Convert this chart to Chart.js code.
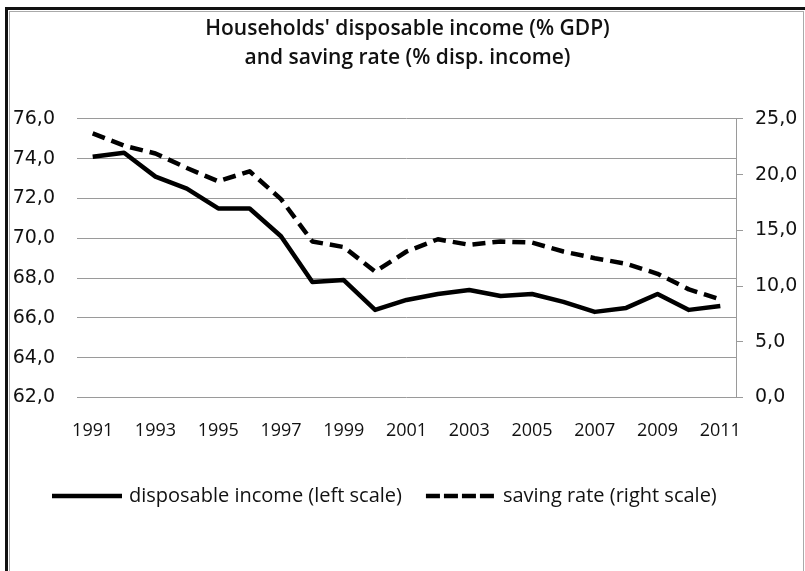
<!DOCTYPE html>
<html>
<head>
<meta charset="utf-8">
<script src="https://cdn.jsdelivr.net/npm/chart.js@4.4.1/dist/chart.umd.min.js"></script>
<style>
  html, body { margin: 0; padding: 0; background: #fff; overflow: hidden; }
  #wrap { position: relative; width: 805px; height: 571px; }
  #frame { position: absolute; left: 5px; top: 7px; width: 820px; height: 590px;
           border-top: 3px solid #111; border-left: 3px solid #111; }
  #inner { position: absolute; left: 9px; top: 11px; width: 793px; height: 590px;
           border: 1px solid #aaa; }
  canvas { position: absolute; left: 0; top: 0; }
</style>
</head>
<body>
<div id="wrap">
  <div id="frame"></div>
  <div id="inner"></div>
  <canvas id="chart" width="805" height="571"></canvas>
</div>
<script>
// years on the category axis
const years = ['1991', '1992', '1993', '1994', '1995', '1996', '1997', '1998', '1999', '2000',
               '2001', '2002', '2003', '2004', '2005', '2006', '2007', '2008', '2009', '2010', '2011'];

// households' disposable income, % of GDP (left scale)
const disposableIncome = [74.1, 74.3, 73.1, 72.5, 71.5, 71.5, 70.1, 67.8, 67.9, 66.4,
                          66.9, 67.2, 67.4, 67.1, 67.2, 66.8, 66.3, 66.5, 67.2, 66.4, 66.6];

// saving rate, % of disposable income (right scale)
const savingRate = [23.7, 22.6, 21.9, 20.6, 19.4, 20.3, 17.8, 14.0, 13.5, 11.3,
                    13.1, 14.2, 13.7, 14.0, 13.9, 13.1, 12.5, 12.0, 11.1, 9.7, 8.8];

const titleLines = ["Households' disposable income (% GDP)", 'and saving rate (% disp. income)'];
const seriesNames = ['disposable income (left scale)', 'saving rate (right scale)'];

const fontFamily = "'Open Sans', 'Noto Sans', sans-serif";
const axisFont = "'DejaVu Sans', sans-serif";
const gridGray = '#9a9a9a';

function commaLabel(v) {
    return Number(v).toFixed(1).replace('.', ',');
}

// legend drawn by hand so the dashed sample keeps its dashes
const bottomLegend = {
    id: 'bottomLegend',
    afterDraw(chart) {
        const c = chart.ctx;
        const y = 496;
        let x = 52;
        c.save();
        c.font = '20px ' + fontFamily;
        c.textBaseline = 'middle';
        c.fillStyle = '#111';
        chart.data.datasets.forEach(function (ds) {
            c.beginPath();
            c.lineWidth = 4.5;
            c.strokeStyle = ds.borderColor;
            c.setLineDash(ds.legendDash || []);
            c.moveTo(x, y);
            c.lineTo(x + 70, y);
            c.stroke();
            c.setLineDash([]);
            c.fillText(ds.label, x + 77, y);
            x += 77 + c.measureText(ds.label).width + 24;
        });
        c.restore();
    }
};

const ctx = document.getElementById('chart').getContext('2d');
const chart = new Chart(ctx, {
    type: 'line',
    data: {
        labels: years,
        datasets: [{
            label: seriesNames[0],
            data: disposableIncome,
            yAxisID: 'yLeft',
            borderColor: '#000',
            backgroundColor: '#000',
            borderWidth: 4.5,
            pointRadius: 0,
            tension: 0,
            borderJoinStyle: 'round'
        }, {
            label: seriesNames[1],
            data: savingRate,
            yAxisID: 'yRight',
            borderColor: '#000',
            backgroundColor: '#000',
            borderWidth: 4.5,
            borderDash: [13, 7],
            legendDash: [14, 4],
            pointRadius: 0,
            tension: 0,
            borderJoinStyle: 'round'
        }]
    },
    options: {
        responsive: false,
        animation: false,
        devicePixelRatio: 1,
        layout: {
            padding: { left: 10, right: 0, top: 10, bottom: 106 }
        },
        plugins: {
            tooltip: { enabled: false },
            legend: { display: false },
            title: {
                display: true,
                text: titleLines,
                color: '#111',
                font: { family: fontFamily, size: 21, weight: '600', lineHeight: 1.38 },
                padding: { top: 4.5, bottom: 46.5 }
            }
        },
        scales: {
            x: {
                offset: true,
                grid: { display: false, drawTicks: false },
                border: { display: false },
                ticks: {
                    color: '#111',
                    font: { family: fontFamily, size: 18 },
                    padding: 23,
                    autoSkip: false,
                    maxRotation: 0,
                    callback: function (val, i) {
                        return i % 2 === 0 ? years[i] : '';
                    }
                }
            },
            yLeft: {
                position: 'left',
                min: 62,
                max: 76,
                afterFit: function (scale) { scale.width = 67; },
                grid: { color: gridGray, drawTicks: false, lineWidth: 1 },
                border: { display: false },
                ticks: {
                    stepSize: 2,
                    color: '#111',
                    padding: 22,
                    font: { family: axisFont, size: 19 },
                    callback: commaLabel
                }
            },
            yRight: {
                position: 'right',
                min: 0,
                max: 25,
                afterFit: function (scale) { scale.width = 69; },
                grid: { drawOnChartArea: false, color: gridGray, tickLength: 7 },
                border: { display: true, color: gridGray },
                ticks: {
                    stepSize: 5,
                    color: '#111',
                    padding: 12,
                    font: { family: axisFont, size: 19 },
                    callback: commaLabel
                }
            }
        }
    },
    plugins: [bottomLegend]
});
</script>
</body>
</html>
